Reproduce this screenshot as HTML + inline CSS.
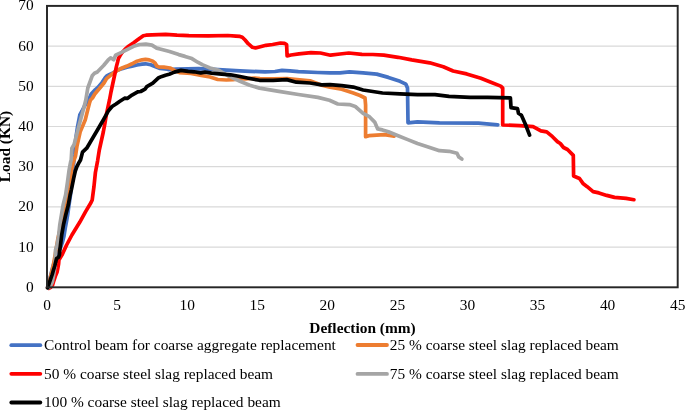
<!DOCTYPE html>
<html><head><meta charset="utf-8"><style>
html,body{margin:0;padding:0;background:#fff;}
svg{display:block;will-change:transform;}
text{font-family:"Liberation Serif",serif;font-size:15.4px;fill:#000;}
</style></head><body>
<svg width="685" height="411" viewBox="0 0 685 411">
<rect width="685" height="411" fill="#fff"/>
<g stroke="#d9d9d9" stroke-width="1.2"><line x1="47" x2="677.7" y1="247.10" y2="247.10"/><line x1="47" x2="677.7" y1="206.90" y2="206.90"/><line x1="47" x2="677.7" y1="166.70" y2="166.70"/><line x1="47" x2="677.7" y1="126.50" y2="126.50"/><line x1="47" x2="677.7" y1="86.30" y2="86.30"/><line x1="47" x2="677.7" y1="46.10" y2="46.10"/></g>
<g fill="none" stroke-width="3.7" stroke-linejoin="round" stroke-linecap="round">
<path stroke="#4472c4" d="M47.5,287.5 L50,278 L53,266 L56.5,255 L60.5,248 L62.5,242 L64,236 L65.3,228 L66.6,221 L67.8,214 L69,205 L70.5,195 L71.5,185 L72.5,172 L73.5,165 L74.5,155 L75.2,145 L76,137 L77.5,127 L79.8,115 L82,111 L84.5,106 L88.5,100 L91.2,94 L94.5,90.5 L97.7,87.7 L102,82.6 L105,78 L106.8,75.8 L109.2,74.6 L113,72.8 L117,70.6 L122,68.6 L127,67.2 L132,66.1 L137,65 L142,64.2 L145.5,63.8 L150.7,64.8 L154.3,66.2 L160.1,68.4 L167.4,69.2 L169.2,69.7 L176.5,69 L198.4,68.7 L218.1,69.6 L240,70.8 L250,71.3 L265,71.9 L275,71.5 L282,70.4 L290,70.9 L298.4,71.6 L317.8,72.5 L330,72.8 L340,72.9 L349.5,71.8 L363.1,72.9 L376.7,74.1 L388.4,77.4 L400,81.3 L405.9,84.2 L407.5,88 L408,122.8 L417.5,121.8 L439.5,122.8 L478.4,123.2 L497.8,124.8"/>
<path stroke="#ed7d31" d="M47.5,287.5 L50,279 L53,267 L55.3,254 L58,238 L60.5,228 L62.5,220 L63.8,215 L65,208 L66,205 L68.5,195 L70,183 L71.5,170 L73.3,162 L75.5,156 L77,146 L80.3,131.4 L85.2,120 L86.7,114 L88.2,108 L89.5,103 L90.5,100 L92.5,98 L94.8,94 L97.3,91 L100.3,87.5 L104,83 L106.6,78.6 L111.5,74.6 L117,70.5 L122,68 L127,66.1 L132,63.8 L137,61.2 L142,59.8 L145.5,59.3 L149.2,59.9 L152.8,61.3 L155,62.9 L156.8,66 L158.7,66.9 L163.8,67.2 L170,68 L175,70.6 L179.4,72.6 L191.1,73.4 L201.3,75.5 L210.1,77 L217.8,79.5 L226.3,80 L233.1,79.6 L240,78.6 L246,79 L250,78.4 L255,78.2 L260,78.6 L273,78.8 L287,78.6 L297,79.5 L310,80.8 L316,83 L321.7,85.2 L330,87.3 L341.7,89.3 L353.3,93 L360,95.5 L365,98 L365.6,105 L365.6,136.7 L368.9,135.7 L384.5,134.7 L394.2,136.1"/>
<path stroke="#ff0000" d="M48.8,288.4 L50.7,287.4 L52.5,285.2 L53.8,280.8 L55.3,276.4 L57.1,272 L57.9,268 L58.6,264 L58.9,260 L61.9,255.1 L66.6,245 L71.9,235 L79.7,222.3 L85.6,211.6 L90.9,202.8 L92.2,199.9 L93.9,187.1 L95.4,172.5 L97.6,160.8 L99.3,150 L101.3,141 L103.3,132 L105,123 L106.3,115 L107.9,107.3 L109.5,100 L111,92 L112.7,84 L114,78 L115.3,72 L116.4,66.6 L117.6,62 L118.4,58.6 L119.8,56 L121.5,53.2 L124.9,49.5 L128.6,46.2 L134,42.5 L137.3,40.1 L143.3,35.7 L146,35.2 L151.9,34.8 L165.6,34.3 L177,35.2 L188.9,35.6 L208.4,35.8 L227.8,35.5 L236,36.1 L240,36.4 L242.3,37.2 L245.1,40 L248.2,43.7 L252.4,47.3 L255.5,48 L260.3,46.7 L266,45.3 L272.6,44.5 L280.5,43 L284.5,43.3 L286.6,44.5 L287.1,56 L291,55 L298.9,53.9 L311,52.6 L320.4,53 L330.5,55.2 L340,54 L348.8,53 L361.9,54.4 L372.8,54.5 L383.8,55.1 L398.1,57.3 L411.7,59.9 L429.7,62.8 L443.3,66.7 L453.1,71 L466.7,73.9 L480.9,78.3 L491.5,82.4 L500.7,86.1 L502.7,88.1 L502.7,125 L519.5,125.6 L533.1,126.6 L540.9,130.9 L546.7,131.8 L552.5,136.7 L557.4,141.6 L560.3,143.5 L563.5,147.5 L567.5,149.5 L573.3,155.4 L573.6,176 L579.5,178.5 L583.3,183.8 L587.2,186.7 L593.1,191.6 L598.9,192.9 L606.7,195.4 L614.5,197.4 L626.1,198.4 L633.9,199.7"/>
<path stroke="#a5a5a5" d="M48,288 L50.5,286 L52.3,282 L53.8,274.5 L55,266 L55.3,258 L55.5,250 L57,245 L58.5,237 L59.8,224.7 L61.4,215 L63.1,205 L65.6,195 L67.5,182 L69.1,170 L70.6,162 L71.2,160 L71.9,148.2 L74.1,144.5 L79.2,124.8 L83.6,108.8 L85.8,100 L87.8,88 L92.2,75.8 L94.5,73.3 L97.3,72 L103.6,65.5 L108,60.2 L110.6,57.8 L113.7,59.8 L115.6,55.2 L121.5,52.4 L127.6,49.3 L133.6,46.3 L139.7,44.5 L145.8,44.2 L151.9,45.1 L156.7,48.1 L160,49 L169.5,51.5 L178.8,54.6 L185,56.4 L191.9,58.6 L197.7,62.2 L202.8,64.9 L210,68 L218.8,70.4 L227.6,75.5 L240,81.2 L249.7,85.3 L259.5,88.1 L278.9,91.3 L298.4,94.5 L317.8,97.4 L329.5,100.3 L337.8,104 L349.5,104.6 L355.3,106.5 L363.1,113.3 L368.9,116.3 L374.7,122.1 L377.7,128.9 L382.5,129.9 L388.4,131.8 L398.1,135.7 L407.8,139.6 L417.5,143.5 L429.7,147.4 L439.5,150.7 L449.2,151.3 L457,153.2 L458.9,157.1 L461.8,159.1"/>
<path stroke="#000000" d="M47.6,287.8 L50.4,279.7 L52.2,274.5 L53.5,270 L54.8,265.7 L56.5,258.6 L58.5,257.3 L59.4,254.9 L59.8,250 L60.5,245 L61.7,235 L63.5,224.7 L65.7,215 L68.3,205 L70.1,195 L71.4,189.6 L73.6,178.6 L75.3,171 L76.9,166.6 L79.2,162.2 L80.5,160 L82.5,152.2 L86.7,148.2 L91.4,140.2 L97.3,130.3 L100.5,124.8 L103.3,120 L106,115.2 L108.2,111.2 L112,106.5 L116,104 L119.5,101.5 L124.6,98.2 L127.3,98.4 L132,95.1 L137.7,91.9 L140.7,91.5 L145,89.2 L146.8,86.6 L152.8,83.2 L158.7,77.7 L161.9,76.4 L165.5,75.2 L169.2,74.2 L174.4,72.1 L181,70.4 L188.2,71.4 L194.1,71.8 L200.7,72.9 L205,72.2 L211.5,73.2 L221.8,74.1 L230.5,74.8 L240,76.5 L249.7,78.5 L259.5,80.3 L273.1,80.3 L286.7,79.6 L296.4,82.2 L310,83 L321.7,84.8 L330,84.6 L341.7,85.6 L353.3,87.1 L363.1,90 L382.5,93 L400,93.8 L417.5,94.6 L435,94.6 L449,96.4 L470,97.3 L487.6,97.3 L510.4,97.8 L511,107.7 L517.5,108.7 L518.5,113.3 L521.4,115.3 L525.3,124 L529.6,135.1"/>
</g>
<rect x="47" y="5.90" width="630.70" height="281.40" fill="none" stroke="#262626" stroke-width="1.95"/>
<g text-anchor="end"><text x="33.6" y="291.70">0</text><text x="33.6" y="251.50">10</text><text x="33.6" y="211.30">20</text><text x="33.6" y="171.10">30</text><text x="33.6" y="130.90">40</text><text x="33.6" y="90.70">50</text><text x="33.6" y="50.50">60</text><text x="33.6" y="10.30">70</text></g>
<g text-anchor="middle"><text x="47.00" y="310.4">0</text><text x="117.08" y="310.4">5</text><text x="187.16" y="310.4">10</text><text x="257.23" y="310.4">15</text><text x="327.31" y="310.4">20</text><text x="397.39" y="310.4">25</text><text x="467.47" y="310.4">30</text><text x="537.54" y="310.4">35</text><text x="607.62" y="310.4">40</text><text x="677.70" y="310.4">45</text></g>
<text x="362.5" y="333" text-anchor="middle" font-weight="bold">Deflection (mm)</text>
<text transform="translate(10.2,146.5) rotate(-90)" text-anchor="middle" font-weight="bold">Load (KN)</text>
<g stroke-width="3.8" stroke-linecap="round">
<line x1="11.3" x2="40.3" y1="345.2" y2="345.2" stroke="#4472c4"/>
<line x1="357.5" x2="387" y1="345" y2="345" stroke="#ed7d31"/>
<line x1="11.3" x2="40.3" y1="373.8" y2="373.8" stroke="#ff0000"/>
<line x1="357.5" x2="387" y1="373.9" y2="373.9" stroke="#a5a5a5"/>
<line x1="11.3" x2="40.3" y1="402.5" y2="402.5" stroke="#000000"/>
</g>
<text x="44" y="349.5">Control beam for coarse aggregate replacement</text>
<text x="389.8" y="349.5">25 % coarse steel slag replaced beam</text>
<text x="44" y="378.5">50 % coarse steel slag replaced beam</text>
<text x="389.8" y="378.7">75 % coarse steel slag replaced beam</text>
<text x="44" y="407.3">100 % coarse steel slag replaced beam</text>
</svg>
</body></html>
